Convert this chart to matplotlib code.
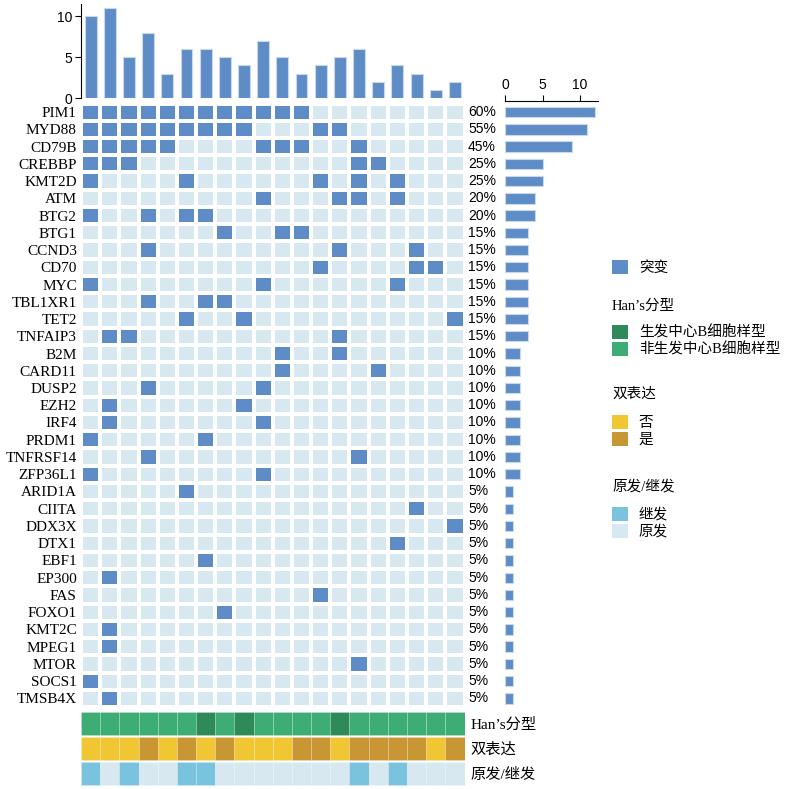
import numpy as np
import matplotlib
matplotlib.use("Agg")
import matplotlib.pyplot as plt
from matplotlib.colors import ListedColormap
from matplotlib.patches import Patch
from matplotlib.transforms import blended_transform_factory

plt.rcParams["font.family"] = ["Liberation Serif", "Noto Sans CJK SC"]

# genes (rows) and the samples (0-19) carrying a mutation
genes = ["PIM1", "MYD88", "CD79B", "CREBBP", "KMT2D", "ATM", "BTG2", "BTG1",
         "CCND3", "CD70", "MYC", "TBL1XR1", "TET2", "TNFAIP3", "B2M", "CARD11",
         "DUSP2", "EZH2", "IRF4", "PRDM1", "TNFRSF14", "ZFP36L1", "ARID1A",
         "CIITA", "DDX3X", "DTX1", "EBF1", "EP300", "FAS", "FOXO1", "KMT2C",
         "MPEG1", "MTOR", "SOCS1", "TMSB4X"]
mutated = [
    [0, 1, 2, 3, 4, 5, 6, 7, 8, 9, 10, 11],
    [0, 1, 2, 3, 4, 5, 6, 7, 8, 12, 13],
    [0, 1, 2, 3, 4, 9, 10, 11, 14],
    [0, 1, 2, 14, 15],
    [0, 5, 12, 14, 16],
    [9, 13, 14, 16],
    [0, 3, 5, 6],
    [7, 10, 11],
    [3, 13, 17],
    [12, 17, 18],
    [0, 9, 16],
    [3, 6, 7],
    [5, 8, 19],
    [1, 2, 13],
    [10, 13],
    [10, 15],
    [3, 9],
    [1, 8],
    [1, 9],
    [0, 6],
    [3, 14],
    [0, 9],
    [5],
    [17],
    [19],
    [16],
    [6],
    [1],
    [12],
    [7],
    [1],
    [1],
    [14],
    [0],
    [1],
]
n_samples = 20

# sample annotations
hans_gcb = [0, 0, 0, 0, 0, 0, 1, 0, 1, 0, 0, 0, 0, 1, 0, 0, 0, 0, 0, 0]
double_expr = [0, 0, 0, 1, 0, 1, 0, 1, 0, 0, 0, 1, 1, 0, 1, 1, 1, 1, 0, 1]
relapse = [1, 0, 1, 0, 0, 1, 1, 0, 0, 0, 0, 0, 0, 0, 1, 0, 1, 0, 0, 0]
anno_names = ["Han’s分型", "双表达", "原发/继发"]

# colours
c_mut = "#5E8CC6"
c_empty = "#D8E8F0"
c_gcb = "#2E8A59"
c_ngcb = "#3DAD75"
c_no = "#F1C633"
c_yes = "#C99634"
c_rel = "#79C3DE"
c_pri = "#D8E8F0"

mat = np.zeros((len(genes), n_samples))
for i, s in enumerate(mutated):
    mat[i, s] = 1
col_counts = mat.sum(axis=0)
row_counts = mat.sum(axis=1)

W, H = 790, 789


def rect(x0, y0, x1, y1):
    return [x0 / W, 1 - y1 / H, (x1 - x0) / W, (y1 - y0) / H]


fig = plt.figure(figsize=(W / 100, H / 100), dpi=100)
sans = ["Liberation Sans", "DejaVu Sans"]

# top bars: mutations per sample
ax_top = fig.add_axes(rect(81, 4, 464.5, 98.3))
ax_top.bar(np.arange(n_samples), col_counts, width=0.62, color=c_mut,
           edgecolor="#C9D9EC", linewidth=0.8)
ax_top.set_xlim(-0.5, n_samples - 0.5)
ax_top.set_ylim(0, 11.5)
ax_top.set_yticks([0, 5, 10])
ax_top.set_xticks([])
for s in ["top", "right", "bottom"]:
    ax_top.spines[s].set_visible(False)
ax_top.tick_params(axis="y", labelsize=10, length=4, pad=2)
for t in ax_top.get_yticklabels():
    t.set_family(sans)

# mutation matrix
ax_m = fig.add_axes(rect(81, 103.5, 464.5, 707))
ax_m.pcolormesh(np.arange(n_samples + 1) - 0.5, np.arange(len(genes) + 1) - 0.5, mat,
                cmap=ListedColormap([c_empty, c_mut]), vmin=0, vmax=1,
                edgecolors="white", linewidth=1.5)
ax_m.set_xlim(-0.5, n_samples - 0.5)
ax_m.set_ylim(len(genes) - 0.5, -0.5)
ax_m.set_xticks([])
ax_m.set_yticks(np.arange(len(genes)))
ax_m.set_yticklabels(genes, fontsize=11)
ax_m.tick_params(axis="y", length=0, pad=3)
for s in ax_m.spines.values():
    s.set_visible(False)
tr = blended_transform_factory(ax_m.transAxes, ax_m.transData)
for i, c in enumerate(row_counts):
    ax_m.text(1.009, i, f"{int(round(c / n_samples * 100))}%", transform=tr,
              ha="left", va="center", fontsize=10, family=sans)

# right bars: mutated samples per gene
ax_r = fig.add_axes(rect(505, 103.5, 598, 707))
ax_r.barh(np.arange(len(genes)), row_counts, height=0.6, color=c_mut,
          edgecolor="#C9D9EC", linewidth=0.8)
ax_r.set_xlim(0, 12.4)
ax_r.set_ylim(len(genes) - 0.5, -0.5)
ax_r.xaxis.tick_top()
ax_r.set_xticks([0, 5, 10])
ax_r.set_yticks([])
for s in ["bottom", "left", "right"]:
    ax_r.spines[s].set_visible(False)
ax_r.spines["top"].set_position(("outward", 2))
ax_r.tick_params(axis="x", labelsize=10, length=4, pad=2)
for t in ax_r.get_xticklabels():
    t.set_family(sans)

# annotation tracks
ax_a = fig.add_axes(rect(81, 711, 464.5, 786))
rows = [
    [c_gcb if v else c_ngcb for v in hans_gcb],
    [c_yes if v else c_no for v in double_expr],
    [c_rel if v else c_pri for v in relapse],
]
for r, cols in enumerate(rows):
    ax_a.bar(np.arange(n_samples), 0.92, bottom=r + 0.04, width=1.0, color=cols,
             edgecolor=(1, 1, 1, 0.25), linewidth=0.5)
ax_a.set_xlim(-0.5, n_samples - 0.5)
ax_a.set_ylim(3, 0)
ax_a.set_xticks([])
ax_a.yaxis.tick_right()
ax_a.set_yticks(np.arange(3) + 0.5)
ax_a.set_yticklabels(anno_names, fontsize=11)
ax_a.tick_params(axis="y", length=0, pad=4)
for s in ax_a.spines.values():
    s.set_visible(False)

# legends
leg_kw = dict(loc="upper left", frameon=False, fontsize=10.5, handlelength=1.1,
              handleheight=1.1, handletextpad=0.75, labelspacing=0.12,
              borderpad=0, borderaxespad=0)
groups = [
    (None, 260, [c_mut], ["突变"]),
    ("Han’s分型", 325, [c_gcb, c_ngcb], ["生发中心B细胞样型", "非生发中心B细胞样型"]),
    ("双表达", 415, [c_no, c_yes], ["否", "是"]),
    ("原发/继发", 507, [c_rel, c_pri], ["继发", "原发"]),
]
title_y = {"Han’s分型": 306, "双表达": 394, "原发/继发": 487}
for title, y, colors, labels in groups:
    handles = [Patch(facecolor=c, edgecolor="none") for c in colors]
    fig.legend(handles, labels, bbox_to_anchor=(612 / W, 1 - y / H), **leg_kw)
    if title:
        fig.text(612 / W, 1 - title_y[title] / H, title, fontsize=10.5, va="center")

fig.savefig("out.png", dpi=100)
